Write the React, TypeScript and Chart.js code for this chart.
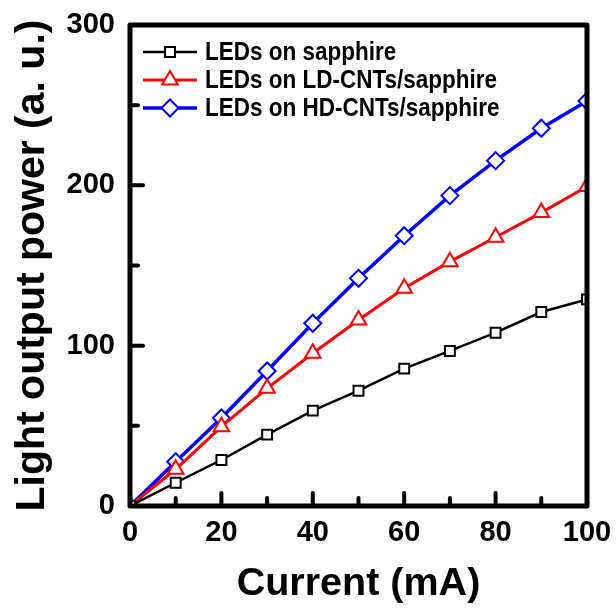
import React, { useEffect, useRef } from "react";
import { Chart, registerables } from "chart.js";

Chart.register(...registerables);

// ---- data ----
const currents = [0, 10, 20, 30, 40, 50, 60, 70, 80, 90, 100];
const sapphire = [0, 14.5, 28.7, 44.5, 59.5, 71.9, 85.7, 96.7, 108.1, 121.0, 128.9];
const ldCnts = [0, 22.9, 49.5, 73.4, 95.3, 116.0, 135.8, 152.4, 167.6, 183.0, 199.2];
const hdCnts = [0, 27.6, 54.9, 84.2, 114.0, 142.0, 168.6, 193.6, 215.4, 235.6, 252.6];
const seriesLabels = ["LEDs on sapphire", "LEDs on LD-CNTs/sapphire", "LEDs on HD-CNTs/sapphire"];
const xTickValues = [0, 10, 20, 30, 40, 50, 60, 70, 80, 90, 100];
const xMajorTicks = [0, 20, 40, 60, 80, 100];
const yTickValues = [0, 50, 100, 150, 200, 250, 300];
const yMajorTicks = [0, 100, 200, 300];
const xTitle = "Current (mA)";
const yTitle = "Light output power (a. u.)";

const FONT = "'Liberation Sans', Arial, sans-serif";

const frameAndTicks = {
  id: "frameAndTicks",
  afterDatasetsDraw(chart: any) {
    const { ctx, chartArea: a, scales } = chart;
    const x = scales.x;
    const y = scales.y;
    ctx.save();
    ctx.strokeStyle = "#000";
    ctx.lineCap = "round";
    ctx.lineWidth = 4;
    ctx.beginPath();
    for (const v of xTickValues) {
      const px = x.getPixelForValue(v);
      const len = xMajorTicks.includes(v) ? 13 : 8;
      ctx.moveTo(px, a.bottom);
      ctx.lineTo(px, a.bottom - len);
    }
    for (const v of yTickValues) {
      const py = y.getPixelForValue(v);
      const len = yMajorTicks.includes(v) ? 13 : 8;
      ctx.moveTo(a.left, py);
      ctx.lineTo(a.left + len, py);
    }
    ctx.stroke();
    ctx.lineWidth = 5;
    ctx.lineJoin = "round";
    ctx.strokeRect(a.left, a.top, a.right - a.left, a.bottom - a.top);
    ctx.restore();
  },
};

function drawMarker(ctx: CanvasRenderingContext2D, style: string, r: number, x: number, y: number) {
  ctx.beginPath();
  if (style === "rect") {
    const s = Math.SQRT1_2 * r;
    ctx.rect(x - s, y - s, 2 * s, 2 * s);
  } else if (style === "triangle") {
    for (let k = 0; k < 3; k++) {
      const ang = (k * 2 * Math.PI) / 3;
      const px = x + Math.sin(ang) * r;
      const py = y - Math.cos(ang) * r;
      if (k === 0) ctx.moveTo(px, py);
      else ctx.lineTo(px, py);
    }
    ctx.closePath();
  } else {
    ctx.moveTo(x, y - r);
    ctx.lineTo(x + r, y);
    ctx.lineTo(x, y + r);
    ctx.lineTo(x - r, y);
    ctx.closePath();
  }
  ctx.fill();
  ctx.stroke();
}

const insideLegend = {
  id: "insideLegend",
  afterDraw(chart: any) {
    const { ctx, chartArea: a } = chart;
    ctx.save();
    const x0 = a.left + 13;
    const lineLen = 54;
    const rowH = 28;
    const y0 = a.top + 27;
    chart.data.datasets.forEach((ds: any, i: number) => {
      const yy = y0 + i * rowH;
      ctx.strokeStyle = ds.borderColor;
      ctx.lineWidth = ds.borderWidth;
      ctx.beginPath();
      ctx.moveTo(x0, yy);
      ctx.lineTo(x0 + lineLen, yy);
      ctx.stroke();
      ctx.fillStyle = "#fff";
      ctx.strokeStyle = ds.pointBorderColor;
      ctx.lineWidth = ds.pointBorderWidth;
      drawMarker(ctx, ds.pointStyle, ds.pointRadius, x0 + lineLen / 2, yy);
      ctx.save();
      ctx.translate(x0 + lineLen + 8, yy + 1);
      ctx.scale(1, 1.12);
      ctx.fillStyle = "#000";
      ctx.font = `bold 22.5px ${FONT}`;
      ctx.textBaseline = "middle";
      ctx.textAlign = "left";
      ctx.fillText(ds.label, 0, 0);
      ctx.restore();
    });
    ctx.restore();
  },
};

export default function App() {
  const ref = useRef<HTMLCanvasElement | null>(null);
  useEffect(() => {
    if (!ref.current) return;
    const mk = (label: string, data: number[], color: string, style: string, r: number, bw: number) => ({
      label,
      data: currents.map((c, i) => ({ x: c, y: data[i] })),
      borderColor: color,
      backgroundColor: "#fff",
      borderWidth: bw,
      pointStyle: style,
      pointRadius: r,
      pointBorderColor: color,
      pointBackgroundColor: "#fff",
      pointBorderWidth: 2,
      tension: 0,
    });
    const chart = new Chart(ref.current, {
      type: "line",
      data: {
        datasets: [
          mk(seriesLabels[0], sapphire, "#000000", "rect", 7, 2.5),
          mk(seriesLabels[1], ldCnts, "#ff0000", "triangle", 9, 3),
          mk(seriesLabels[2], hdCnts, "#0000ff", "rectRot", 8.5, 3.5),
        ] as any,
      },
      options: {
        animation: false,
        responsive: false,
        maintainAspectRatio: false,
        layout: { padding: { left: 0, top: 25, right: 29, bottom: 0 } },
        plugins: { legend: { display: false }, tooltip: { enabled: false } },
        scales: {
          x: {
            type: "linear",
            min: 0,
            max: 100,
            border: { display: false },
            grid: { display: false, drawTicks: false },
            ticks: {
              stepSize: 20,
              padding: 10,
              color: "#000",
              font: { family: FONT, size: 29, weight: "bold" },
            },
            title: {
              display: true,
              text: xTitle,
              color: "#000",
              padding: { top: 0, bottom: 0 },
              font: { family: FONT, size: 39.5, weight: "bold" },
            },
            afterFit: (s: any) => {
              s.height = 102;
              s.paddingLeft = 0;
              s.paddingRight = 0;
            },
          },
          y: {
            type: "linear",
            min: 0,
            max: 300,
            border: { display: false },
            grid: { display: false, drawTicks: false },
            ticks: {
              stepSize: 100,
              padding: 15,
              color: "#000",
              font: { family: FONT, size: 29, weight: "bold" },
            },
            title: {
              display: true,
              text: yTitle,
              color: "#000",
              padding: { top: 8, bottom: 0 },
              font: { family: FONT, size: 41, weight: "bold" },
            },
            afterFit: (s: any) => {
              s.width = 130;
              s.paddingTop = 0;
              s.paddingBottom = 0;
            },
          },
        },
      },
      plugins: [frameAndTicks, insideLegend],
    });
    return () => chart.destroy();
  }, []);
  return (
    <div style={{ position: "fixed", left: 0, top: 0, width: 616, height: 608, background: "#fff" }}>
      <canvas ref={ref} width={616} height={608} style={{ width: 616, height: 608 }} />
    </div>
  );
}
